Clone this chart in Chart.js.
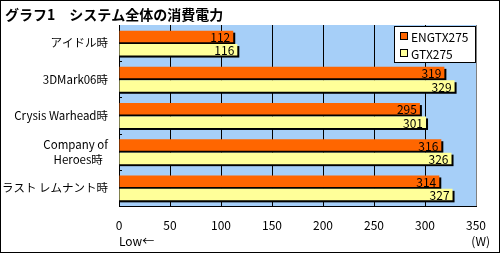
<!DOCTYPE html>
<html>
<head>
<meta charset="utf-8">
<script src="https://cdn.jsdelivr.net/npm/chart.js@4"></script>
<style>
  html, body { margin: 0; padding: 0; background: #fff; }
  #wrap { width: 500px; height: 253px; }
</style>
</head>
<body>
<div id="wrap"><canvas id="power"></canvas></div>
<script>
// グラフ1 システム全体の消費電力
const categories = ['アイドル時', '3DMark06時', 'Crysis Warhead時', ['Company of', 'Heroes時  '], 'ラスト レムナント時'];
const engtx275 = [112, 319, 295, 316, 314];
const gtx275 = [116, 329, 301, 326, 327];
const seriesNames = ['ENGTX275', 'GTX275'];
const xTicks = [0, 50, 100, 150, 200, 250, 300, 350];

const FONT = '"Noto Sans CJK JP", "Noto Sans", sans-serif';
const ORANGE = '#ff6600';
const YELLOW = '#ffff99';

// background, plot area, shadows, labels, legend
const decor = {
  id: 'decor',
  beforeDraw(chart) {
    const { ctx, chartArea: a } = chart;
    ctx.save();
    ctx.fillStyle = '#fff';
    ctx.fillRect(0, 0, chart.width, chart.height);
    ctx.fillStyle = '#a6cff8';
    ctx.fillRect(a.left, a.top, a.right - a.left, a.bottom - a.top);
    ctx.restore();
  },
  beforeDatasetsDraw(chart) {
    const ctx = chart.ctx;
    const a = chart.chartArea;
    ctx.save();
    // small marks between categories on the left axis
    ctx.strokeStyle = '#000';
    ctx.lineWidth = 1;
    const step = (a.bottom - a.top) / categories.length;
    for (let i = 1; i < categories.length; i++) {
      const py = Math.round(a.top + i * step) + 0.5;
      ctx.beginPath();
      ctx.moveTo(a.left, py);
      ctx.lineTo(a.left + 3, py);
      ctx.stroke();
    }
    // bar shadows
    ctx.fillStyle = '#000';
    chart.data.datasets.forEach((ds, i) => {
      chart.getDatasetMeta(i).data.forEach(el => {
        ctx.fillRect(el.base, el.y - el.height / 2 + 2, el.x - el.base + 2, el.height);
      });
    });
    ctx.restore();
  },
  afterDatasetsDraw(chart) {
    const ctx = chart.ctx;
    ctx.save();
    ctx.font = '12px ' + FONT;
    ctx.fillStyle = '#000';
    ctx.textAlign = 'right';
    ctx.textBaseline = 'middle';
    chart.data.datasets.forEach((ds, i) => {
      chart.getDatasetMeta(i).data.forEach((el, j) => {
        ctx.fillText(String(ds.data[j]), el.x - 3, el.y + 1);
      });
    });
    ctx.restore();
  },
  afterDraw(chart) {
    const { ctx, chartArea: a } = chart;
    ctx.save();
    // right edge of plot
    ctx.strokeStyle = '#808080';
    ctx.lineWidth = 1;
    ctx.beginPath();
    ctx.moveTo(a.right + 0.5, a.top);
    ctx.lineTo(a.right + 0.5, a.bottom);
    ctx.stroke();

    // title
    ctx.fillStyle = '#000';
    ctx.font = 'bold 14px ' + FONT;
    ctx.textAlign = 'left';
    ctx.textBaseline = 'middle';
    ctx.fillText('グラフ1　システム全体の消費電力', 5, 15);

    // axis notes
    ctx.font = '12px ' + FONT;
    ctx.fillText('Low←', 119, 241);
    ctx.textAlign = 'right';
    ctx.fillText('(W)', 490, 241);

    // legend
    const lx = 394, ly = 26, lw = 81, lh = 36;
    ctx.fillStyle = '#fff';
    ctx.fillRect(lx, ly, lw, lh);
    ctx.strokeStyle = '#000';
    ctx.strokeRect(lx + 0.5, ly + 0.5, lw, lh);
    const colors = [ORANGE, YELLOW];
    seriesNames.forEach((name, i) => {
      const y = ly + 10 + i * 17;
      ctx.fillStyle = colors[i];
      ctx.fillRect(400, y - 4, 8, 8);
      ctx.strokeRect(400.5, y - 3.5, 7, 7);
      ctx.fillStyle = '#000';
      ctx.textAlign = 'left';
      ctx.fillText(name, 411, y + 1);
    });

    // outer frame
    ctx.strokeStyle = '#000';
    ctx.strokeRect(0.5, 0.5, chart.width - 1, chart.height - 1);
    ctx.restore();
  }
};

const ctxP = document.querySelector('#power').getContext('2d');

const powerChart = new Chart(ctxP, {
  type: 'bar',
  data: {
    labels: categories,
    datasets: [
      { label: seriesNames[0], data: engtx275, backgroundColor: ORANGE },
      { label: seriesNames[1], data: gtx275, backgroundColor: YELLOW }
    ]
  },
  options: {
    indexAxis: 'y',
    responsive: true,
    maintainAspectRatio: false,
    animation: false,
    categoryPercentage: 0.74,
    barPercentage: 0.86,
    layout: { padding: { left: 0, right: 24, top: 25, bottom: 0 } },
    plugins: {
      legend: { display: false },
      tooltip: { enabled: false }
    },
    scales: {
      x: {
        min: 0,
        max: 350,
        afterFit(scale) { scale.height = 47; },
        afterBuildTicks(scale) { scale.ticks = xTicks.map(v => ({ value: v })); },
        ticks: {
          autoSkip: false,
          maxRotation: 0,
          padding: 12,
          color: '#000',
          font: { family: FONT, size: 12 }
        },
        grid: {
          display: true,
          drawOnChartArea: true,
          drawTicks: false,
          lineWidth: 1,
          color: c => (c.tick && c.tick.value === 350 ? '#808080' : '#000000')
        },
        border: { display: true, color: '#000', width: 1 }
      },
      y: {
        afterFit(scale) { scale.width = 119; },
        ticks: {
          padding: 11,
          color: '#000',
          font: { family: FONT, size: 11.5, lineHeight: 1.3 }
        },
        grid: { display: true, drawOnChartArea: false, drawTicks: false },
        border: { display: true, color: '#000', width: 1 }
      }
    }
  },
  plugins: [decor]
});
</script>
</body>
</html>
